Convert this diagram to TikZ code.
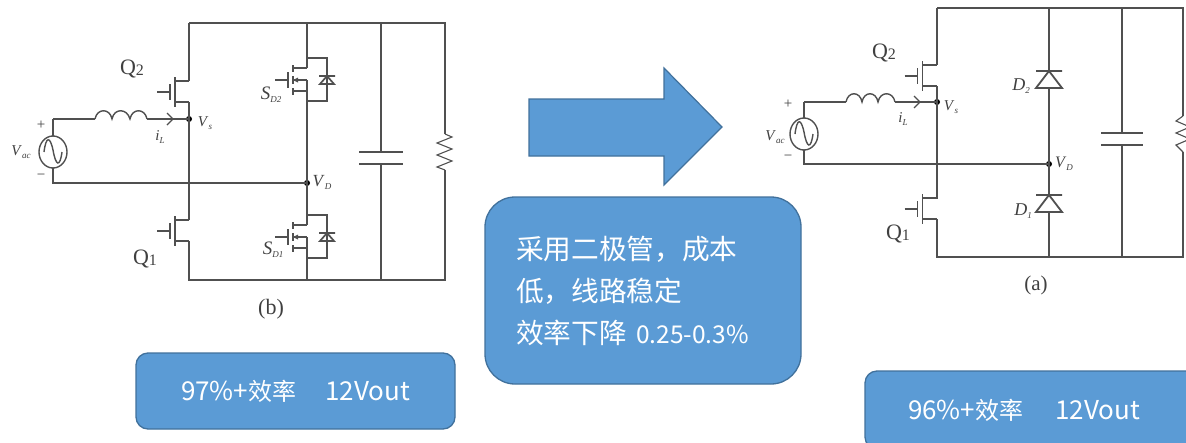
\documentclass[tikz,border=0pt]{standalone}
\usepackage{fontspec}
\setmainfont{Liberation Serif}
\newfontfamily\cjk{Noto Sans CJK SC}
\definecolor{boxfill}{HTML}{5B9BD5}
\definecolor{boxline}{HTML}{41719C}
\definecolor{wire}{HTML}{505050}
\definecolor{ink}{HTML}{404040}
\newcommand{\sbs}[1]{\raisebox{-3pt}{\fontsize{9}{9}\selectfont\textit{#1}}}
\newcommand{\sbn}[1]{\raisebox{-1pt}{\fontsize{16}{16}\selectfont #1}}
\newcommand{\lat}[1]{{\fontsize{26}{26}\selectfont #1}}
\tikzset{
  x=1pt,y=-1pt,
  wireline/.style={draw=wire,line width=1.4pt},
  lab/.style={text=ink,inner sep=0pt,font=\fontsize{15}{15}\selectfont},
  biglab/.style={text=ink,inner sep=0pt,font=\fontsize{22}{22}\selectfont},
  blue box/.style={draw=boxline,line width=1.3pt,fill=boxfill,text=white,font=\cjk\fontsize{24}{24}\selectfont},
  dot/.style={circle,fill=black,inner sep=0pt,minimum size=6pt},
  nmos/.pic={
    \draw[wireline] (0,-11)--(-14,-11) (0,10)--(-14,10);
    \draw[wireline,line width=1.8pt] (-14,-15)--(-14,15);
    \draw[wireline,line width=1.8pt] (-19,-8)--(-19,8);
    \draw[wireline,line width=1.8pt] (-32,0)--(-19,0);
  },
  sdfet/.pic={
    \draw[wireline] (0,-22)--(20,-22)--(20,21)--(0,21);
    \draw[wireline] (0,-12)--(-14,-12) (0,0)--(-14,0) (0,11)--(-14,11);
    \fill[wire] (-14,0)--(-9,-2.5)--(-9,2.5)--cycle;
    \draw[wireline,line width=1.8pt] (-14,-15)--(-14,-8) (-14,-4)--(-14,4) (-14,8)--(-14,15);
    \draw[wireline] (-19,-8)--(-19,8) (-32,0)--(-19,0);
    \draw[wireline,line width=1.7pt] (12,-4)--(28,-4) (13,4)--(27,4)--(20,-4)--cycle;
  },
  diodesym/.pic={
    \draw[wireline,line width=1.8pt,fill=white] (-13,0)--(13,0) (-13,17)--(13,17)--(0,0)--cycle;
  }
}
\begin{document}
\begin{tikzpicture}
\useasboundingbox (0,0) rectangle (1186,442);
\clip (0,0) rectangle (1186,442);
\fill[white] (0,0) rectangle (1186,442);

%%% LEFT CIRCUIT (b)
\coordinate (tl) at (189,23);
\coordinate (tm) at (307,23);
\coordinate (tc) at (381,23);
\coordinate (tr) at (445,23);
\coordinate (bl) at (189,280);
\coordinate (bm) at (307,280);
\coordinate (bc) at (381,280);
\coordinate (br) at (445,280);
\node[dot] (vsL) at (189,119) {};
\node[dot] (vdL) at (307,183) {};
\coordinate (srcLt) at (53,119);
\coordinate (srcLb) at (53,183);
\coordinate (indLa) at (95,119);
\coordinate (indLb) at (147,119);
\draw[wireline] (tl)--(tr)--(445,134) (445,170)--(br)--(bl)--(189,241);
\draw[wireline] (tl)--(189,81);
\draw[wireline] (189,102)--(vsL.center)--(189,220);
\draw[wireline] (srcLt)--(indLa) (indLb)--(vsL.center);
\draw[wireline] (srcLt)--(53,136) (53,168)--(srcLb)--(vdL.center);
\draw[wireline] (tm)--(307,68) (307,80)--(vdL.center)--(307,225) (307,237)--(bm);
\draw[wireline] (tc)--(381,152) (381,164)--(bc);
\draw[wireline,line width=1.4pt] (359,152)--(403,152) (359,164)--(403,164);
\draw[wireline,line width=1.1pt] (445,134)--(452,137)--(437,143)--(452,149)--(437,155)--(452,161)--(437,167)--(445,170);
\draw[wireline] (53,152) ellipse (14 and 16);
\draw[wireline] (44,152) .. controls (46,136) and (50,136) .. (53,150) .. controls (56,167) and (60,167) .. (62,152);
\draw[wireline,line width=1.4pt] (95,119) .. controls (97,108) and (110,108) .. (112,119) .. controls (114,108) and (127,108) .. (130,119) .. controls (132,108) and (145,108) .. (147,119);
\draw[wire,line width=1.1pt] (167,113)--(173,119)--(167,125);
\pic at (189,92) {nmos};
\pic at (189,231) {nmos};
\pic at (307,80) {sdfet};
\pic at (307,237) {sdfet};
\node[biglab] (q2L) at (132,69) {Q\sbn{2}};
\node[biglab] (q1L) at (145,259) {Q\sbn{1}};
\node[lab] (vacL) at (21,152) {\textit{V}\sbs{ac}};
\node[lab] (plusL) at (41,125) {+};
\node[lab] (minusL) at (41,177) {−};
\node[lab] (vsLt) at (205,123) {\textit{V}\sbs{s}};
\node[lab] (ilL) at (160,137) {\textit{i}\sbs{L}};
\node[lab,font=\fontsize{19}{19}\selectfont] (sd2) at (271,95) {\textit{S}\sbs{D2}};
\node[lab,font=\fontsize{19}{19}\selectfont] (sd1) at (273,250) {\textit{S}\sbs{D1}};
\node[lab,font=\fontsize{17}{17}\selectfont] (vdLt) at (322,182) {\textit{V}\sbs{D}};
\node[biglab,font=\fontsize{22}{22}\selectfont] (capb) at (271,309) {(b)};

%%% RIGHT CIRCUIT (a)
\coordinate (tlr) at (937,8);
\coordinate (tmr) at (1049,8);
\coordinate (tcr) at (1122,8);
\coordinate (trr) at (1183,8);
\coordinate (blr) at (937,257);
\coordinate (bmr) at (1049,257);
\coordinate (bcr) at (1122,257);
\coordinate (brr) at (1183,257);
\node[dot] (vsR) at (937,102) {};
\node[dot] (vdR) at (1049,164) {};
\coordinate (srcRt) at (804,102);
\coordinate (srcRb) at (804,164);
\coordinate (indRa) at (846,102);
\coordinate (indRb) at (895,102);
\draw[wireline] (tlr)--(trr)--(1183,116) (1183,152)--(brr)--(blr)--(937,219);
\draw[wireline] (tlr)--(937,65);
\draw[wireline] (937,86)--(vsR.center)--(937,199);
\draw[wireline] (srcRt)--(indRa) (indRb)--(vsR.center);
\draw[wireline] (srcRt)--(804,118) (804,150)--(srcRb)--(vdR.center);
\draw[wireline] (tmr)--(bmr);
\draw[wireline] (tcr)--(1122,133) (1122,145)--(bcr);
\draw[wireline,line width=1.4pt] (1101,133)--(1143,133) (1101,145)--(1143,145);
\draw[wireline,line width=1.1pt] (1183,116)--(1176,121)--(1190,127)--(1176,133)--(1190,139)--(1176,145)--(1183,152);
\draw[wireline] (804,134) ellipse (14 and 16);
\draw[wireline] (795,134) .. controls (797,118) and (801,118) .. (804,132) .. controls (807,149) and (811,149) .. (813,134);
\draw[wireline,line width=1.4pt] (846,102) .. controls (848,91) and (860,91) .. (862,102) .. controls (864,91) and (876,91) .. (878,102) .. controls (880,91) and (893,91) .. (895,102);
\draw[wire,line width=1.1pt] (914,96)--(920,102)--(914,108);
\pic at (936.5,76) {nmos};
\pic at (936.5,209) {nmos};
\pic at (1049,71) {diodesym};
\pic at (1049,195) {diodesym};
\node[biglab] (q2R) at (884,53) {Q\sbn{2}};
\node[biglab] (q1R) at (898,234) {Q\sbn{1}};
\node[lab] (vacR) at (775,137) {\textit{V}\sbs{ac}};
\node[lab] (plusR) at (788,104) {+};
\node[lab] (minusR) at (788,158) {−};
\node[lab] (vsRt) at (951,107) {\textit{V}\sbs{s}};
\node[lab] (ilR) at (903,119) {\textit{i}\sbs{L}};
\node[lab,font=\fontsize{18}{18}\selectfont] (d2) at (1021,86) {\textit{D}\sbs{2}};
\node[lab,font=\fontsize{18}{18}\selectfont] (d1) at (1023,211) {\textit{D}\sbs{1}};
\node[lab,font=\fontsize{16}{16}\selectfont] (vdRt) at (1064,164) {\textit{V}\sbs{D}};
\node[biglab,font=\fontsize{21}{21}\selectfont] (capa) at (1036,285) {(a)};

%%% BLUE SHAPES
\draw[draw=boxline,line width=1.2pt,fill=boxfill] (529,99)--(664,99)--(664,68)--(722,127)--(664,185)--(664,156)--(529,156)--cycle;
\node[blue box,rounded corners=12pt,minimum width=319pt,minimum height=76pt,inner sep=0pt] (boxL) at (295.5,391) {\lat{97\%+}效率\hspace{29pt}\lat{12Vout}};
\node[blue box,rounded corners=12pt,minimum width=340pt,minimum height=78pt,inner sep=0pt,text width=320pt,align=left] (boxR) at (1035,410) {\hspace{33pt}\lat{96\%+}效率\hspace{32pt}\lat{12Vout}};
\node[blue box,rounded corners=30pt,minimum width=316pt,minimum height=187pt,text width=254pt,align=left,inner xsep=0pt,inner ysep=0pt,font=\cjk\fontsize{27.7}{42}\selectfont] (boxM) at (643,290.5) {采用二极管，成本\\低，线路稳定\\效率下降 {\fontsize{24.5}{42}\selectfont 0.25-0.3\%}};
\end{tikzpicture}
\end{document}
